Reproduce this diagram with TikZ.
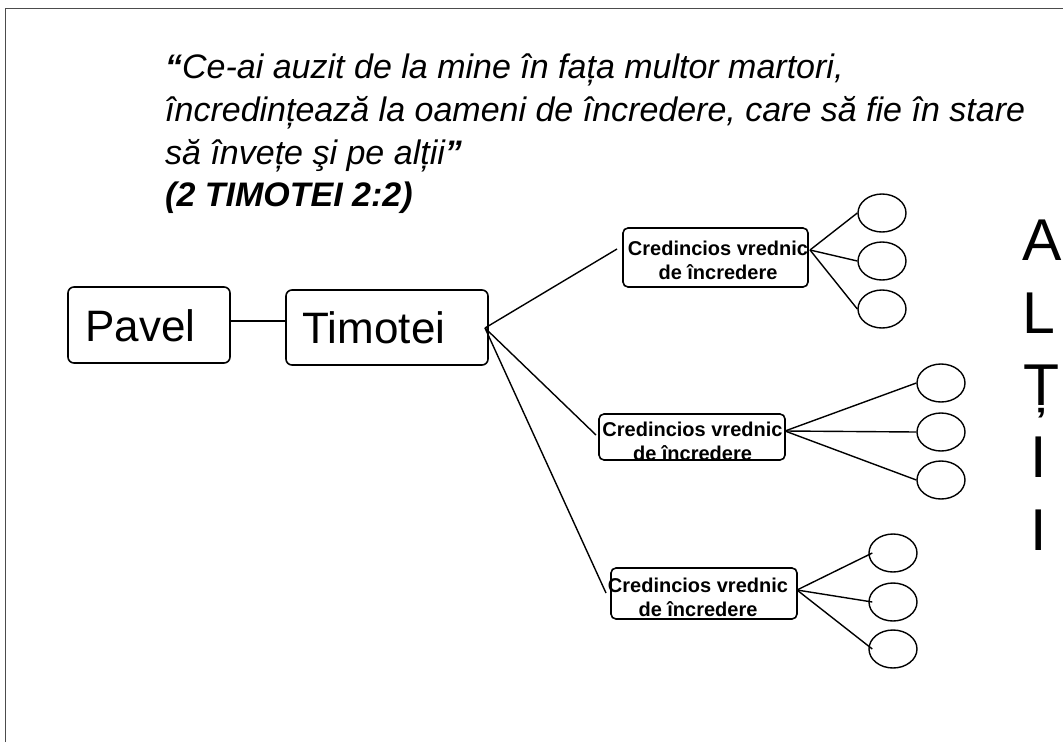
\documentclass[tikz,border=0pt]{standalone}
\usepackage{fontspec}
\setmainfont{Liberation Sans}
\usetikzlibrary{shapes.geometric}
\tikzset{
  quote/.style={anchor=base west, inner sep=0pt, font=\fontsize{34}{40}\selectfont\itshape},
  bigbox/.style={draw, rounded corners=6pt, line width=1.6pt, inner sep=0pt},
  bigtext/.style={anchor=base, inner sep=0pt, font=\fontsize{44}{50}\selectfont},
  cbox/.style={draw, rounded corners=5pt, line width=1.6pt, inner sep=0pt},
  ctext/.style={align=center, inner sep=0pt, font=\fontsize{20}{24}\selectfont\bfseries},
  oval/.style={draw, ellipse, line width=1.4pt, minimum width=48pt, minimum height=38pt, inner sep=0pt},
  conn/.style={line width=1.4pt},
  letter/.style={anchor=base, inner sep=0pt, font=\fontsize{59}{60}\selectfont}
}
\begin{document}
\begin{tikzpicture}[x=1pt,y=-1pt]
\useasboundingbox (0,0) rectangle (1063,742);
\draw[black!70, line width=1pt] (5,742) -- (5,8) -- (1063,8);

% quote
\node[quote] (q1) at (165,78) {{\bfseries “}Ce-ai auzit de la mine în fața multor martori,};
\node[quote] (q2) at (165,121) {încredințează la oameni de încredere, care să fie în stare};
\node[quote] (q3) at (165,164) {să învețe şi pe alții{\bfseries ”}};
\node[quote, font=\fontsize{34}{40}\selectfont\itshape\bfseries] (q4) at (165,206) {(2 TIMOTEI 2:2)};

% main boxes
\node[bigbox, minimum width=162pt, minimum height=76pt] (pavel) at (149,325) {};
\node[bigtext] (pavelt) at (140.5,341) {Pavel};
\node[bigbox, minimum width=202pt, minimum height=75pt] (tim) at (387,327.5) {};
\node[bigtext] (timt) at (374,343) {Timotei};
\draw[conn] ([yshift=4pt]pavel.east) -- ([yshift=4pt]pavel.east -| tim.west);

% credincios boxes
\node[cbox, minimum width=185pt, minimum height=59pt] (b1) at (715.5,257.5) {};
\node[ctext] (t1) at (718,260) {Credincios vrednic\\de încredere};
\node[cbox, minimum width=186pt, minimum height=46pt] (b2) at (692,437) {};
\node[ctext] (t2) at (692.5,441) {Credincios vrednic\\de încredere};
\node[cbox, minimum width=186pt, minimum height=51pt] (b3) at (704,593.5) {};
\node[ctext] (t3) at (698,597.5) {Credincios vrednic\\de încredere};

% hub lines from Timotei
\coordinate (hub) at (485,328);
\coordinate (e1) at (617,249);
\coordinate (e2) at (596,435);
\coordinate (e3) at (606,593);
\draw[conn] (hub) -- (e1);
\draw[conn] (hub) -- (e2);
\draw[conn] (hub) -- (e3);

% circles group 1
\node[oval] (o11) at (882,213) {};
\node[oval] (o12) at (882,261) {};
\node[oval] (o13) at (882,309) {};
\coordinate (h1) at (810,250);
\draw[conn] (h1) -- (o11.west);
\draw[conn] (h1) -- (o12.west);
\draw[conn] (h1) -- (o13.west);

% circles group 2
\node[oval] (o21) at (941,383) {};
\node[oval] (o22) at (941,432) {};
\node[oval] (o23) at (941,480) {};
\coordinate (h2) at (785,431);
\draw[conn] (h2) -- (o21.west);
\draw[conn] (h2) -- (o22.west);
\draw[conn] (h2) -- (o23.west);

% circles group 3
\node[oval] (o31) at (893,553) {};
\node[oval] (o32) at (893,602) {};
\node[oval] (o33) at (893,649) {};
\coordinate (h3) at (797,590);
\draw[conn] (h3) -- ([xshift=4pt]o31.west);
\draw[conn] (h3) -- ([xshift=4pt]o32.west);
\draw[conn] (h3) -- ([xshift=4pt]o33.west);

% ALTII
\node[letter] (la) at (1042,260) {A};
\node[letter] (ll) at (1039,333) {L};
\node[letter] (lt) at (1042,405) {Ț};
\node[letter] (li1) at (1039,477) {I};
\node[letter] (li2) at (1039,550) {I};
\end{tikzpicture}
\end{document}
